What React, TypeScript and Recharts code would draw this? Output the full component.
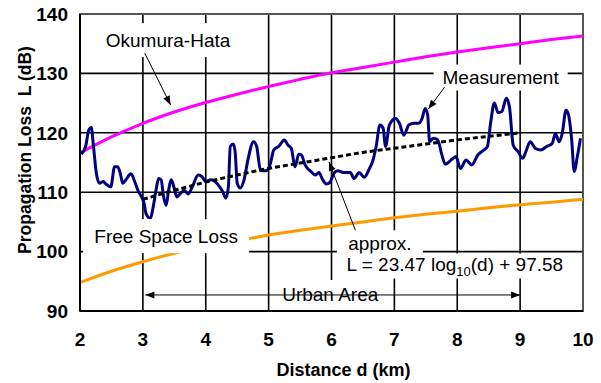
import React from 'react'
import {
  LineChart,
  Line,
  XAxis,
  YAxis,
  CartesianGrid,
  ReferenceLine,
  ReferenceDot,
  ReferenceArea,
  Label,
} from 'recharts'

const FONT = '"Liberation Sans", Arial, sans-serif'

const X_TICKS = [2, 3, 4, 5, 6, 7, 8, 9, 10]
const Y_TICKS = [90, 100, 110, 120, 130, 140]

// smooth model curves, read every 0.5 km
const MODEL_D = [2, 2.5, 3, 3.5, 4, 4.5, 5, 5.5, 6, 6.5, 7, 7.5, 8, 8.5, 9, 9.5, 10]
const OKUMURA_HATA = [116.6, 119.3, 121.6, 123.5, 125.1, 126.5, 127.8, 129.0, 130.1, 131.0, 131.9, 132.8, 133.6, 134.3, 135.0, 135.7, 136.3]
const FREE_SPACE = [94.8, 96.7, 98.3, 99.7, 100.8, 101.8, 102.8, 103.6, 104.3, 105.0, 105.7, 106.3, 106.8, 107.4, 107.9, 108.3, 108.8]

// regression line
const APPROX_D = [3, 3.5, 4, 4.5, 5, 5.5, 6, 6.5, 7, 7.5, 8, 8.5, 9]
const APPROX_L = [108.8, 110.3, 111.7, 112.9, 114.0, 114.9, 115.8, 116.7, 117.4, 118.1, 118.8, 119.4, 120.0]

// measured loss
const MEAS_D = [
  2.02, 2.09, 2.14, 2.18, 2.21, 2.26, 2.31, 2.37, 2.41, 2.49, 2.55, 2.6, 2.64, 2.68, 2.73, 2.81, 2.88, 2.93, 2.98, 3.02,
  3.05, 3.12, 3.16, 3.21, 3.25, 3.29, 3.33, 3.37, 3.41, 3.45, 3.49, 3.54, 3.6, 3.66, 3.72, 3.79, 3.88, 3.94, 4.0, 4.08,
  4.15, 4.22, 4.27, 4.32, 4.36, 4.39, 4.44, 4.47, 4.5, 4.55, 4.61, 4.67, 4.76, 4.81, 4.87, 4.96, 5.03, 5.08, 5.16, 5.25,
  5.31, 5.36, 5.42, 5.48, 5.52, 5.58, 5.67, 5.74, 5.8, 5.86, 5.92, 5.97, 6.04, 6.1, 6.19, 6.3, 6.36, 6.44, 6.52, 6.59,
  6.66, 6.71, 6.77, 6.82, 6.86, 6.92, 7.02, 7.08, 7.15, 7.23, 7.31, 7.38, 7.44, 7.49, 7.53, 7.56, 7.62, 7.69, 7.75, 7.81,
  7.9, 7.98, 8.05, 8.14, 8.23, 8.33, 8.42, 8.48, 8.53, 8.59, 8.65, 8.71, 8.78, 8.83, 8.89, 8.97, 9.04, 9.1, 9.16, 9.24,
  9.33, 9.42, 9.51, 9.56, 9.62, 9.67, 9.73, 9.77, 9.82, 9.86, 9.91, 9.96,
]
const MEAS_L = [
  116.4, 117.7, 120.5, 120.9, 118.2, 113.2, 111.5, 111.8, 111.4, 110.9, 114.3, 114.3, 113.2, 111.5, 112.1, 113.1, 111.5, 110.1, 109.2, 108.1,
  106.4, 105.6, 107.3, 110.4, 112.3, 112.1, 109.2, 107.8, 110.4, 112.1, 111.0, 109.2, 109.8, 110.3, 109.7, 111.0, 112.9, 112.6, 111.8, 112.1,
  111.8, 110.9, 110.1, 109.0, 110.9, 117.7, 118.1, 116.5, 111.5, 110.7, 112.1, 115.4, 118.5, 117.7, 113.7, 113.6, 114.9, 117.1, 117.7, 118.8,
  117.9, 117.4, 114.3, 116.4, 116.3, 114.6, 113.5, 112.9, 113.3, 112.1, 111.4, 111.6, 113.2, 113.6, 113.3, 113.3, 112.3, 113.3, 112.5, 113.7,
  115.4, 117.7, 121.3, 120.8, 117.7, 121.3, 122.4, 121.6, 119.6, 121.3, 121.6, 121.6, 122.4, 124.1, 123.0, 118.5, 119.1, 118.8, 116.5, 114.7,
  115.4, 116.0, 114.0, 115.4, 114.6, 116.3, 117.1, 117.7, 121.6, 125.0, 123.4, 123.6, 125.8, 124.4, 117.9, 116.8, 115.7, 117.1, 118.5, 117.4,
  117.1, 117.7, 118.2, 119.9, 118.5, 119.9, 123.8, 123.0, 118.8, 113.5, 116.0, 119.1,
]

const modelHata = MODEL_D.map((d, i) => ({ d, L: OKUMURA_HATA[i] }))
const modelFree = MODEL_D.map((d, i) => ({ d, L: FREE_SPACE[i] }))
const approx = APPROX_D.map((d, i) => ({ d, L: APPROX_L[i] }))
const measured = MEAS_D.map((d, i) => ({ d, L: MEAS_L[i] }))

// text callouts with white boxes (centre in data units, box size in px)
const NOTES = [
  { text: 'Okumura-Hata', d: 3.4, L: 135.6, w: 148, h: 34 },
  { text: 'Measurement', d: 8.69, L: 129.3, w: 134, h: 26 },
  { text: 'Free Space Loss', d: 3.37, L: 102.6, w: 166, h: 34 },
  { text: 'approx.', d: 6.77, L: 101.4, w: 86, h: 26 },
  { text: 'Urban Area', d: 5.98, L: 92.7, w: 118, h: 30 },
]

const ARROWS = [
  { from: { x: 3.03, y: 133.4 }, to: { x: 3.44, y: 124.7 }, both: false },
  { from: { x: 7.8, y: 127.7 }, to: { x: 7.54, y: 124.0 }, both: false },
  { from: { x: 6.38, y: 103.6 }, to: { x: 5.96, y: 115.1 }, both: false },
  { from: { x: 3.04, y: 92.7 }, to: { x: 9.0, y: 92.7 }, both: true },
]

function head(x: number, y: number, ux: number, uy: number) {
  const len = 9
  const wid = 3.5
  const bx = x - ux * len
  const by = y - uy * len
  return `${x},${y} ${bx - uy * wid},${by + ux * wid} ${bx + uy * wid},${by - ux * wid}`
}

function arrowShape(both: boolean) {
  return (p: any) => {
    const { x1, y1, x2, y2 } = p
    const dist = Math.hypot(x2 - x1, y2 - y1) || 1
    const ux = (x2 - x1) / dist
    const uy = (y2 - y1) / dist
    return (
      <g>
        <line x1={x1} y1={y1} x2={x2} y2={y2} stroke="#000" strokeWidth={1} />
        <polygon points={head(x2, y2, ux, uy)} fill="#000" />
        {both && <polygon points={head(x1, y1, -ux, -uy)} fill="#000" />}
      </g>
    )
  }
}

function noteShape(text: string, w: number, h: number) {
  return (p: any) => {
    const { cx, cy } = p
    return (
      <g>
        <rect x={cx - w / 2} y={cy - h / 2} width={w} height={h} fill="#fff" />
        <text x={cx} y={cy} textAnchor="middle" dominantBaseline="central" fontFamily={FONT} fontSize={19} fill="#000">
          {text}
        </text>
      </g>
    )
  }
}

function formulaShape(p: any) {
  const { cx, cy } = p
  return (
    <g>
      <rect x={cx - 6} y={cy - 12} width={232} height={25} fill="#fff" />
      <text x={cx} y={cy + 6} fontFamily={FONT} fontSize={19} fill="#000">
        L = 23.47 log
        <tspan fontSize={13} dy={5}>10</tspan>
        <tspan dy={-5}>(d) + 97.58</tspan>
      </text>
    </g>
  )
}

export default function App() {
  const tick = { fill: '#000', fontSize: 19, fontWeight: 700, fontFamily: FONT }
  return (
    <div style={{ position: 'absolute', left: 0, top: 0, background: '#fff' }}>
      <LineChart width={601} height={383} margin={{ top: 14, right: 18, bottom: 0, left: 0 }}>
        <CartesianGrid stroke="#000" strokeWidth={1.6} horizontalValues={Y_TICKS} verticalValues={X_TICKS} />
        <XAxis
          type="number"
          dataKey="d"
          domain={[2, 10]}
          ticks={X_TICKS}
          allowDataOverflow
          height={72}
          tick={tick}
          tickLine={false}
          tickSize={0}
          tickMargin={22}
          axisLine={{ stroke: '#000', strokeWidth: 2 }}
        >
          <Label
            content={({ viewBox }: any) => (
              <text
                x={viewBox.x + viewBox.width / 2 + 12}
                y={376}
                textAnchor="middle"
                fontFamily={FONT}
                fontSize={18}
                fontWeight={700}
                fill="#000"
              >
                Distance d (km)
              </text>
            )}
          />
        </XAxis>
        <YAxis
          type="number"
          dataKey="L"
          domain={[90, 140]}
          ticks={Y_TICKS}
          allowDataOverflow
          width={80}
          tick={tick}
          tickLine={false}
          tickSize={0}
          tickMargin={12}
          axisLine={{ stroke: '#000', strokeWidth: 2 }}
        >
          <Label
            content={() => (
              <text
                x={31}
                y={150}
                transform="rotate(-90 31 150)"
                textAnchor="middle"
                fontFamily={FONT}
                fontSize={17.5}
                fontWeight={700}
                fill="#000"
                style={{ whiteSpace: 'pre' }}
              >
                {'Propagation Loss  L (dB)'}
              </text>
            )}
          />
        </YAxis>
        <ReferenceArea x1={2} x2={10} y1={90} y2={140} fill="none" stroke="#555" strokeWidth={2} />
        <Line data={modelFree} dataKey="L" type="monotone" stroke="#FF9900" strokeWidth={3} dot={false} isAnimationActive={false} />
        <Line data={modelHata} dataKey="L" type="monotone" stroke="#FF00FF" strokeWidth={3} dot={false} isAnimationActive={false} />
        <Line data={measured} dataKey="L" type="monotone" stroke="#000080" strokeWidth={3} dot={false} isAnimationActive={false} />
        <Line
          data={approx}
          dataKey="L"
          type="monotone"
          stroke="#000"
          strokeWidth={3}
          strokeDasharray="5 3"
          dot={false}
          isAnimationActive={false}
        />
        {NOTES.map((n) => (
          <ReferenceDot key={n.text} x={n.d} y={n.L} r={1} shape={noteShape(n.text, n.w, n.h)} zIndex={1500} />
        ))}
        <ReferenceDot x={6.24} y={97.66} r={1} shape={formulaShape} zIndex={1500} />
        {ARROWS.map((a, i) => (
          <ReferenceLine key={i} segment={[a.from, a.to]} shape={arrowShape(a.both)} zIndex={1600} />
        ))}
      </LineChart>
    </div>
  )
}
